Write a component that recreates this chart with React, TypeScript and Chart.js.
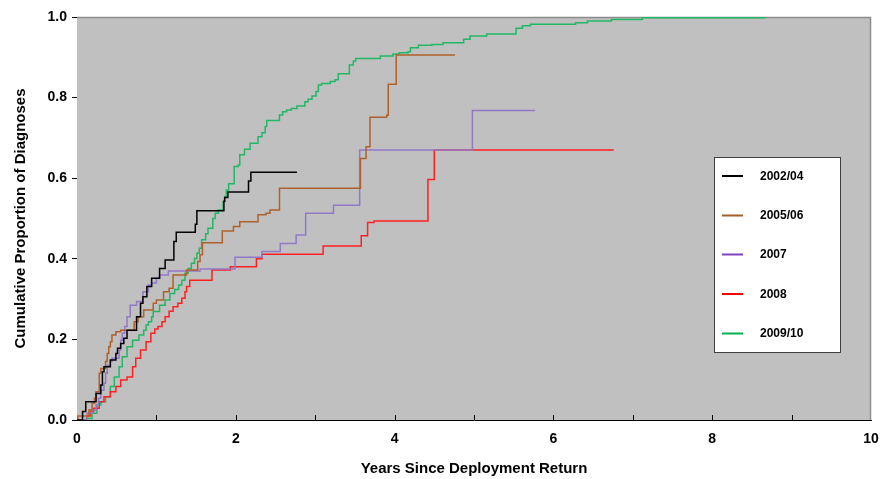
import React, { useEffect, useRef } from 'react';
import { Chart, registerables } from 'chart.js';

Chart.register(...registerables);

// ---- Data (years since return, cumulative proportion after the step) ----
const seriesLabels = ['2002/04', '2005/06', '2007', '2008', '2009/10'];
const seriesColors = ['#000000', '#b0602a', '#9278c8', '#ff2020', '#20b864'];
const legendColors = ['#000000', '#a85a28', '#8040c0', '#ff0000', '#00b050'];

const years0204 = [0, 0.07, 0.11, 0.24, 0.30, 0.32, 0.34, 0.42, 0.49, 0.51, 0.55, 0.59, 0.63, 0.75, 0.80, 0.83, 0.88, 0.94, 1.04, 1.11, 1.22, 1.25, 1.49, 1.51, 1.85, 1.86, 1.90, 2.16, 2.19, 2.77];
const prop0204 = [0, 0.021, 0.045, 0.066, 0.087, 0.12, 0.132, 0.149, 0.165, 0.178, 0.19, 0.203, 0.223, 0.256, 0.29, 0.306, 0.331, 0.352, 0.376, 0.397, 0.443, 0.466, 0.486, 0.519, 0.543, 0.552, 0.566, 0.593, 0.615, 0.615];

const years0506 = [0, 0.01, 0.15, 0.19, 0.22, 0.24, 0.28, 0.30, 0.36, 0.38, 0.40, 0.42, 0.44, 0.49, 0.55, 0.72, 0.77, 0.84, 0.96, 1.00, 1.09, 1.16, 1.21, 1.38, 1.52, 1.55, 1.58, 1.83, 1.97, 2.05, 2.28, 2.38, 2.43, 2.55, 3.57, 3.64, 3.69, 3.90, 3.92, 4.02, 4.76];
const prop0506 = [0, 0.01, 0.025, 0.041, 0.054, 0.07, 0.116, 0.128, 0.145, 0.165, 0.182, 0.194, 0.211, 0.219, 0.223, 0.244, 0.256, 0.273, 0.29, 0.298, 0.318, 0.327, 0.36, 0.372, 0.393, 0.41, 0.44, 0.469, 0.48, 0.492, 0.509, 0.513, 0.521, 0.575, 0.649, 0.678, 0.751, 0.756, 0.833, 0.906, 0.906];

const years2007 = [0, 0.13, 0.19, 0.24, 0.27, 0.30, 0.34, 0.36, 0.38, 0.42, 0.44, 0.53, 0.55, 0.57, 0.60, 0.63, 0.67, 0.75, 0.83, 0.90, 0.94, 1.00, 1.04, 1.15, 1.55, 1.99, 2.33, 2.56, 2.76, 2.88, 3.23, 3.56, 4.98, 5.77];
const prop2007 = [0, 0.017, 0.025, 0.037, 0.054, 0.074, 0.091, 0.116, 0.136, 0.145, 0.153, 0.174, 0.198, 0.215, 0.232, 0.256, 0.285, 0.294, 0.318, 0.335, 0.34, 0.352, 0.36, 0.37, 0.375, 0.404, 0.418, 0.438, 0.459, 0.513, 0.533, 0.67, 0.768, 0.768];

const years2008 = [0, 0.13, 0.17, 0.21, 0.28, 0.34, 0.42, 0.49, 0.55, 0.63, 0.70, 0.74, 0.80, 0.87, 0.93, 0.98, 1.02, 1.07, 1.11, 1.16, 1.21, 1.27, 1.32, 1.36, 1.38, 1.42, 1.70, 1.93, 2.26, 2.33, 3.10, 3.58, 3.66, 3.74, 4.42, 4.50, 6.76];
const prop2008 = [0, 0.01, 0.021, 0.029, 0.045, 0.058, 0.07, 0.083, 0.099, 0.107, 0.132, 0.153, 0.174, 0.194, 0.215, 0.226, 0.232, 0.244, 0.256, 0.27, 0.281, 0.29, 0.302, 0.318, 0.331, 0.347, 0.372, 0.38, 0.40, 0.411, 0.432, 0.457, 0.49, 0.494, 0.597, 0.67, 0.67];

const years0910 = [0, 0.12, 0.19, 0.25, 0.30, 0.36, 0.42, 0.47, 0.53, 0.57, 0.63, 0.70, 0.78, 0.84, 0.87, 0.90, 0.94, 0.96, 1.04, 1.11, 1.17, 1.23, 1.28, 1.32, 1.36, 1.40, 1.44, 1.48, 1.51, 1.54, 1.57, 1.62, 1.65, 1.71, 1.74, 1.78, 1.84, 1.86, 1.88, 1.91, 1.98, 2.03, 2.05, 2.11, 2.18, 2.28, 2.33, 2.37, 2.39, 2.55, 2.59, 2.64, 2.70, 2.77, 2.87, 2.91, 2.96, 3.01, 3.04, 3.08, 3.19, 3.25, 3.29, 3.43, 3.48, 3.51, 3.82, 3.98, 4.06, 4.17, 4.20, 4.30, 4.47, 4.61, 4.87, 4.95, 5.16, 5.53, 5.61, 5.71, 6.28, 6.43, 6.73, 7.12, 8.67];
const prop0910 = [0, 0.004, 0.017, 0.037, 0.045, 0.058, 0.083, 0.107, 0.132, 0.157, 0.182, 0.198, 0.211, 0.223, 0.236, 0.244, 0.256, 0.269, 0.285, 0.298, 0.314, 0.324, 0.335, 0.347, 0.364, 0.376, 0.389, 0.401, 0.414, 0.426, 0.447, 0.462, 0.476, 0.50, 0.513, 0.521, 0.542, 0.554, 0.571, 0.586, 0.629, 0.633, 0.658, 0.672, 0.687, 0.703, 0.713, 0.728, 0.743, 0.757, 0.765, 0.769, 0.773, 0.779, 0.79, 0.796, 0.804, 0.815, 0.831, 0.835, 0.84, 0.844, 0.859, 0.881, 0.891, 0.897, 0.903, 0.908, 0.911, 0.914, 0.924, 0.93, 0.932, 0.936, 0.945, 0.953, 0.958, 0.972, 0.978, 0.982, 0.986, 0.99, 0.994, 0.998, 0.998];

const seriesYears = [years0204, years0506, years2007, years2008, years0910];
const seriesProps = [prop0204, prop0506, prop2007, prop2008, prop0910];

const xTickValues = [0, 2, 4, 6, 8, 10];
const yTickValues = [0, 0.2, 0.4, 0.6, 0.8, 1.0];
const xTitle = 'Years Since Deployment Return';
const yTitle = 'Cumulative Proportion of Diagnoses';

const FONT = 'Arial, "Liberation Sans", sans-serif';

const backgroundPlugin = {
  id: 'plotBg',
  beforeDatasetsDraw(chart: any) {
    const { ctx, chartArea: a } = chart;
    ctx.save();
    ctx.fillStyle = '#c0c0c0';
    ctx.fillRect(a.left, a.top, a.right - a.left, a.bottom - a.top);
    ctx.strokeStyle = '#8c8c8c';
    ctx.lineWidth = 1.5;
    ctx.beginPath();
    ctx.moveTo(a.left, a.top + 0.5);
    ctx.lineTo(a.right - 0.5, a.top + 0.5);
    ctx.lineTo(a.right - 0.5, a.bottom);
    ctx.stroke();
    const xs = chart.scales.x;
    ctx.strokeStyle = '#000';
    ctx.lineWidth = 1;
    ctx.beginPath();
    for (let v = 1; v <= 9; v++) {
      const px = Math.round(xs.getPixelForValue(v)) + 0.5;
      ctx.moveTo(px, a.bottom);
      ctx.lineTo(px, a.bottom - 5);
    }
    ctx.stroke();
    ctx.restore();
  },
};

const legendPlugin = {
  id: 'boxLegend',
  afterDraw(chart: any) {
    const { ctx } = chart;
    const bx = 714.5, by = 157.5, bw = 126, bh = 195;
    ctx.save();
    ctx.fillStyle = '#ffffff';
    ctx.fillRect(bx, by, bw, bh);
    ctx.strokeStyle = '#404040';
    ctx.lineWidth = 1;
    ctx.strokeRect(bx, by, bw, bh);
    const rows = [176, 215.5, 254.5, 294, 333.5];
    ctx.font = `bold 12px ${FONT}`;
    ctx.textBaseline = 'middle';
    ctx.textAlign = 'left';
    seriesLabels.forEach((lab, i) => {
      ctx.strokeStyle = legendColors[i];
      ctx.lineWidth = 2;
      ctx.beginPath();
      ctx.moveTo(722, rows[i]);
      ctx.lineTo(743, rows[i]);
      ctx.stroke();
      ctx.fillStyle = '#000';
      ctx.fillText(lab, 760, rows[i] + 0.5);
    });
    ctx.restore();
  },
};

export default function App() {
  const ref = useRef<HTMLCanvasElement | null>(null);
  useEffect(() => {
    if (!ref.current) return;
    const datasets = seriesLabels.map((label, i) => ({
      label,
      data: seriesYears[i].map((x, j) => ({ x, y: seriesProps[i][j] })),
      borderColor: seriesColors[i],
      backgroundColor: seriesColors[i],
      borderWidth: 1.5,
      pointRadius: 0,
      stepped: true as const,
      fill: false,
    }));
    const chart = new Chart(ref.current, {
      type: 'line',
      data: { datasets },
      plugins: [backgroundPlugin, legendPlugin],
      options: {
        animation: false,
        responsive: true,
        maintainAspectRatio: false,
        layout: { padding: { top: 17, right: 20, left: 0, bottom: 0 } },
        plugins: { legend: { display: false }, tooltip: { enabled: false } },
        scales: {
          x: {
            type: 'linear',
            min: 0,
            max: 10,
            afterBuildTicks: (scale: any) => {
              scale.ticks = xTickValues.map((v) => ({ value: v }));
            },
            ticks: {
              autoSkip: false,
              maxRotation: 0,
              padding: 11,
              color: '#000',
              font: { family: FONT, size: 14, weight: 'bold' },
              callback: (v: any) => String(v),
            },
            grid: { drawOnChartArea: false, drawTicks: false },
            border: { display: true, color: '#000', width: 1 },
            title: {
              display: true,
              text: xTitle,
              color: '#000',
              font: { family: FONT, size: 15, weight: 'bold' },
              padding: { top: 0, bottom: 1 },
            },
            afterFit: (scale: any) => {
              scale.height = 59;
            },
          },
          y: {
            type: 'linear',
            min: 0,
            max: 1,
            afterBuildTicks: (scale: any) => {
              scale.ticks = yTickValues.map((v) => ({ value: v }));
            },
            ticks: {
              padding: 5,
              color: '#000',
              font: { family: FONT, size: 14, weight: 'bold' },
              callback: (v: any) => Number(v).toFixed(1),
            },
            grid: { drawOnChartArea: false, drawTicks: true, tickLength: 5, color: '#000' },
            border: { display: true, color: '#000', width: 1 },
            title: {
              display: true,
              text: yTitle,
              color: '#000',
              font: { family: FONT, size: 15, weight: 'bold' },
              padding: { top: 12, bottom: 0 },
            },
            afterFit: (scale: any) => {
              scale.width = 77;
            },
          },
        },
      },
    } as any);
    return () => chart.destroy();
  }, []);
  return (
    <div style={{ position: 'absolute', left: 0, top: 0, width: 891, height: 479, background: '#fff' }}>
      <canvas ref={ref} />
    </div>
  );
}
